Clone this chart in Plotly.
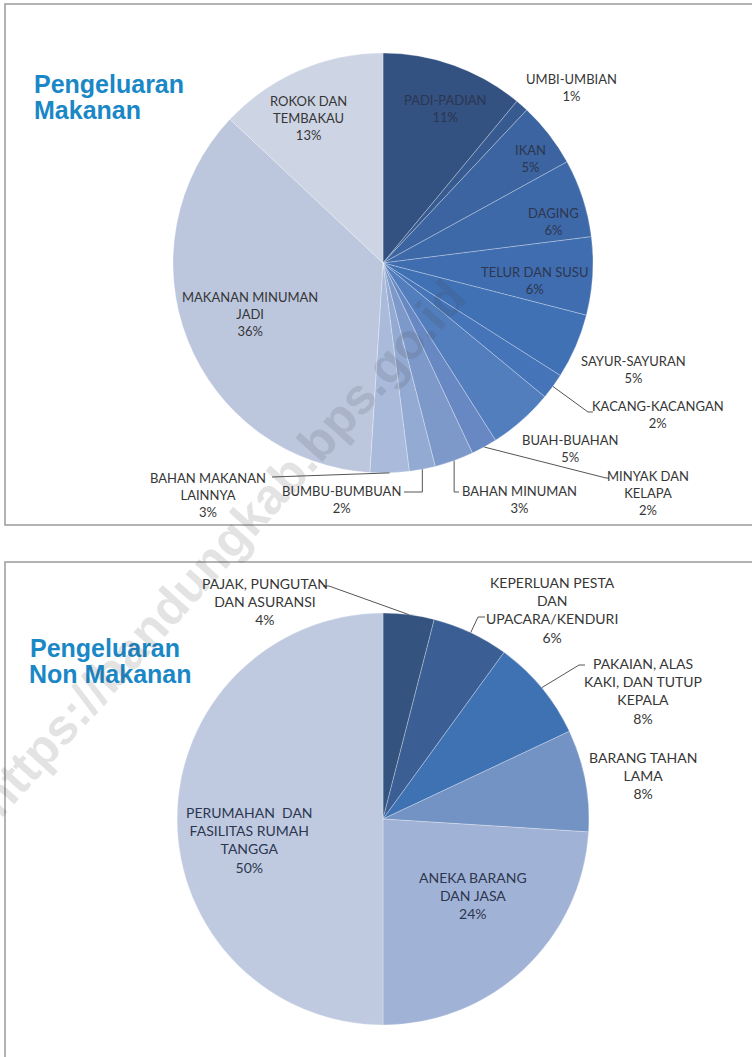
import math

import plotly.graph_objects as go

W, H = 752, 1057

# Pengeluaran Makanan (clockwise from 12 o'clock)
food_labels = [
    "PADI-PADIAN", "UMBI-UMBIAN", "IKAN", "DAGING", "TELUR DAN SUSU",
    "SAYUR-SAYURAN", "KACANG-KACANGAN", "BUAH-BUAHAN", "MINYAK DAN KELAPA",
    "BAHAN MINUMAN", "BUMBU-BUMBUAN", "BAHAN MAKANAN LAINNYA",
    "MAKANAN MINUMAN JADI", "ROKOK DAN TEMBAKAU",
]
food_values = [11, 1, 5, 6, 6, 5, 2, 5, 2, 3, 2, 3, 36, 13]
food_colors = [
    "#335181", "#375b90", "#3b64a0", "#3e69a8", "#3f6daf", "#4171b5", "#4574b8",
    "#527ebe", "#6788c2", "#7d99ca", "#93aad3", "#a9badb", "#bcc7de", "#cdd4e4",
]

# Pengeluaran Non Makanan
nonfood_labels = [
    "PAJAK, PUNGUTAN DAN ASURANSI", "KEPERLUAN PESTA DAN UPACARA/KENDURI",
    "PAKAIAN, ALAS KAKI, DAN TUTUP KEPALA", "BARANG TAHAN LAMA",
    "ANEKA BARANG DAN JASA", "PERUMAHAN DAN FASILITAS RUMAH TANGGA",
]
nonfood_values = [4, 6, 8, 8, 24, 50]
nonfood_colors = ["#34547f", "#3b5f95", "#3f72b3", "#7393c5", "#a0b2d5", "#bfcae0"]

# pie boxes in pixels: (cx, cy, r)
FOOD_PIE = (383, 263, 210)
NONFOOD_PIE = (383, 819, 206)


def px(x):
    return x / W


def py(y):
    return 1 - y / H


def domain(pie):
    cx, cy, r = pie
    return {"x": [px(cx - r), px(cx + r)], "y": [py(cy + r), py(cy - r)]}


def edge_point(values, idx, pie):
    cx, cy, r = pie
    total = sum(values)
    mid = (sum(values[:idx]) + values[idx] / 2) / total * 2 * math.pi
    return cx + r * math.sin(mid), cy - r * math.cos(mid)


fig = go.Figure()

for values, names, colors, pie in [
    (food_values, food_labels, food_colors, FOOD_PIE),
    (nonfood_values, nonfood_labels, nonfood_colors, NONFOOD_PIE),
]:
    fig.add_trace(
        go.Pie(
            values=values,
            labels=names,
            sort=False,
            direction="clockwise",
            rotation=0,
            textinfo="none",
            marker={"colors": colors, "line": {"color": "rgba(255,255,255,0.35)", "width": 0.8}},
            domain=domain(pie),
            showlegend=False,
        )
    )

# panel frames
for y0, y1 in [(4, 525), (562, 1065)]:
    fig.add_shape(
        type="rect", xref="paper", yref="paper",
        x0=px(5), x1=px(760), y0=py(y1), y1=py(y0),
        line={"color": "#9a9a9a", "width": 1.5}, layer="below",
    )

FONT = "Lato"
DARK = "#2d3650"
GREY = "#363636"

# (text, x, y, color)
food_text = [
    ("ROKOK DAN<br>TEMBAKAU<br>13%", 308, 118, GREY),
    ("PADI-PADIAN<br>11%", 445, 109, DARK),
    ("UMBI-UMBIAN<br>1%", 571, 88, GREY),
    ("IKAN<br>5%", 530, 159, DARK),
    ("DAGING<br>6%", 553, 221, DARK),
    ("TELUR DAN SUSU<br>6%", 534, 280, DARK),
    ("SAYUR-SAYURAN<br>5%", 633, 369, GREY),
    ("KACANG-KACANGAN<br>2%", 658, 415, GREY),
    ("BUAH-BUAHAN<br>5%", 570, 449, GREY),
    ("MINYAK DAN<br>KELAPA<br>2%", 648, 493, GREY),
    ("BAHAN MINUMAN<br>3%", 519, 499, GREY),
    ("BUMBU-BUMBUAN<br>2%", 341, 499, GREY),
    ("BAHAN MAKANAN<br>LAINNYA<br>3%", 208, 495, GREY),
    ("MAKANAN MINUMAN<br>JADI<br>36%", 250, 314, GREY),
]
nonfood_text = [
    ("PAJAK, PUNGUTAN<br>DAN ASURANSI<br>4%", 265, 601, GREY),
    ("KEPERLUAN PESTA<br>DAN<br>UPACARA/KENDURI<br>6%", 552, 610, GREY),
    ("PAKAIAN, ALAS<br>KAKI, DAN TUTUP<br>KEPALA<br>8%", 643, 691, GREY),
    ("BARANG TAHAN<br>LAMA<br>8%", 643, 775, GREY),
    ("ANEKA BARANG<br>DAN JASA<br>24%", 473, 895, DARK),
    ("PERUMAHAN  DAN<br>FASILITAS RUMAH<br>TANGGA<br>50%", 249, 840, DARK),
]

for items, size in [(food_text, 13), (nonfood_text, 14)]:
    for text, x, y, color in items:
        fig.add_annotation(
            x=px(x), y=py(y), xref="paper", yref="paper", text=text,
            showarrow=False, xanchor="center", yanchor="middle", align="center",
            font={"family": FONT, "size": size, "color": color},
        )

# leader lines: start at slice edge, then elbow points near the label
food_leaders = {
    6: [(588, 412), (593, 412)],
    8: [(606, 478), (609, 478)],
    9: [("same", 492), (459, 492)],
    10: [("same", 492), (404, 492)],
    11: [(272, 477)],
}
nonfood_leaders = {
    0: [(329, 586), (323, 586)],
    1: [(478, 617), (485, 617)],
    2: [(579, 665), (585, 665)],
}

for leaders, values, pie in [
    (food_leaders, food_values, FOOD_PIE),
    (nonfood_leaders, nonfood_values, NONFOOD_PIE),
]:
    for idx, points in leaders.items():
        sx, sy = edge_point(values, idx, pie)
        path = f"M {px(sx)} {py(sy)}"
        for x, y in points:
            x = sx if x == "same" else x
            path += f" L {px(x)} {py(y)}"
        fig.add_shape(
            type="path", xref="paper", yref="paper", path=path,
            line={"color": "#555555", "width": 1},
        )

# panel titles
for text, x, y in [
    ("Pengeluaran", 32, 84),
    ("Makanan", 32, 110),
    ("Pengeluaran", 28, 648),
    ("Non Makanan", 27, 674),
]:
    fig.add_annotation(
        x=px(x), y=py(y), xref="paper", yref="paper", text=f"<b>{text}</b>",
        showarrow=False, xanchor="left", yanchor="middle",
        font={"family": "Liberation Sans", "size": 25, "color": "#1a87c6"},
    )

# watermark (cut off at the left edge, as in the source)
fig.add_annotation(
    x=px(222), y=py(548), xref="paper", yref="paper",
    text="<b>https://bandungkab.bps.go.id</b>", showarrow=False, textangle=-48,
    xanchor="center", yanchor="middle",
    font={"family": "Liberation Sans", "size": 50, "color": "rgba(70,70,70,0.15)"},
)

fig.update_layout(
    width=W,
    height=H,
    margin={"l": 0, "r": 0, "t": 0, "b": 0},
    paper_bgcolor="white",
    plot_bgcolor="white",
)

fig.write_html(
    "out.html",
    config={"displayModeBar": False},
    post_script="document.body.style.margin = '0';",
)
